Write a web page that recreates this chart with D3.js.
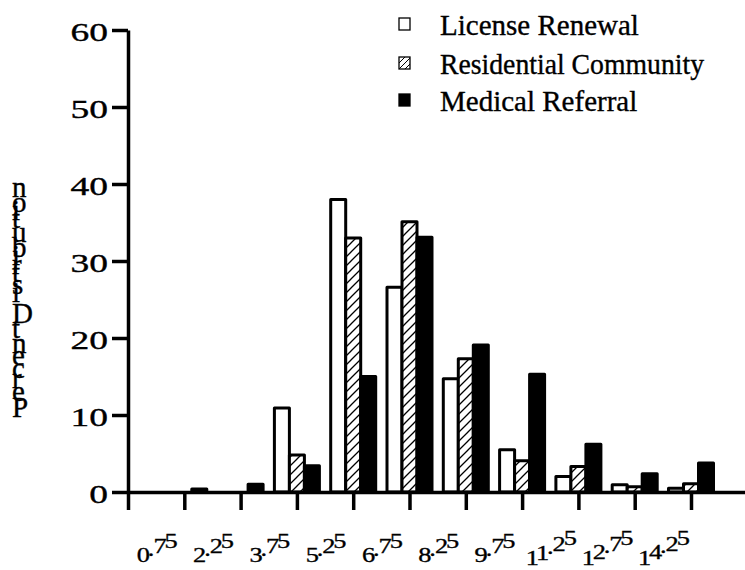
<!DOCTYPE html>
<html>
<head>
<meta charset="utf-8">
<script src="https://cdn.jsdelivr.net/npm/d3@7/dist/d3.min.js"></script>
<style>
  html, body { margin: 0; padding: 0; background: #fff; }
  svg { display: block; }
  svg text {
    font-family: "Liberation Serif", "Tinos", "Times New Roman", "DejaVu Serif", serif !important;
    fill: #000; stroke: #000; stroke-width: 0.35px;
  }
</style>
</head>
<body>
<svg id="chart" width="745" height="570"></svg>
<script>
const SERIF = '"Liberation Serif", "Tinos", "Times New Roman", "DejaVu Serif", serif';

// Bin labels (mid values of each 1.5-wide bin)
const binLabels = ["0.75", "2.25", "3.75", "5.25", "6.75", "8.25", "9.75", "11.25", "12.75", "14.25"];
const binMids = [0.75, 2.25, 3.75, 5.25, 6.75, 8.25, 9.75, 11.25, 12.75, 14.25];
// Bin boundaries drawn as tick marks
const binEdges = [0, 1.5, 3, 4.5, 6, 7.5, 9, 10.5, 12, 13.5, 15];

// Percent distribution per series
const seriesNames = ["License Renewal", "Residential Community", "Medical Referral"];
const licenseRenewal = [0, 0, 10.9, 38.0, 26.6, 14.7, 5.5, 2.0, 0.93, 0.5];
const residentialCommunity = [0, 0, 4.8, 33.0, 35.1, 17.3, 4.05, 3.3, 0.68, 1.06];
const medicalReferral = [0.4, 1.0, 3.4, 15.0, 33.1, 19.1, 15.3, 6.2, 2.36, 3.77];

const yTicks = [0, 10, 20, 30, 40, 50, 60];

const svg = d3.select("#chart").attr("font-family", SERIF);
const defs = svg.append("defs");

// Diagonal hatching for the second series
function hatch(id, s, w) {
  const p = defs.append("pattern").attr("id", id)
    .attr("patternUnits", "userSpaceOnUse").attr("width", s).attr("height", s);
  p.append("rect").attr("width", s).attr("height", s).attr("fill", "#fff");
  p.append("path")
    .attr("d", `M-1,1 l2,-2 M0,${s} l${s},${-s} M${s - 1},${s + 1} l2,-2`)
    .attr("stroke", "#000").attr("stroke-width", w);
}
hatch("hatch", 9, 1.3);
hatch("hatchSmall", 6, 1);

const axisX0 = 128, axisY0 = 492;
const x = d3.scaleLinear().domain([0, 16.5]).range([axisX0, 747.3]);
const y = d3.scaleLinear().domain([0, 60]).range([axisY0, 30]);

// Bars: three per bin, grouped around the bin's upper edge
const barW = 15;
const fills = ["#fff", "url(#hatch)", "#000"];
const series = [licenseRenewal, residentialCommunity, medicalReferral];
const bars = svg.append("g");
series.forEach((vals, si) => {
  bars.selectAll(null).data(vals).join("rect")
    .attr("x", (d, i) => x(binMids[i] + 0.75) + (si - 1.5) * barW)
    .attr("y", d => y(d))
    .attr("width", barW)
    .attr("height", d => axisY0 - y(d))
    .attr("fill", fills[si])
    .attr("stroke", "#000")
    .attr("stroke-width", 3)
    .attr("stroke-linejoin", "round");
});

// X axis: baseline with ticks at bin edges
const xAxis = svg.append("g").attr("transform", `translate(0,${axisY0})`)
  .call(d3.axisBottom(x).tickValues(binEdges).tickSize(18).tickSizeOuter(0).tickFormat(""));
xAxis.select(".domain").attr("stroke-width", 3.5);
xAxis.selectAll(".tick line").attr("stroke-width", 3.5);

// Y axis
const yAxis = svg.append("g").attr("transform", `translate(${axisX0},0)`)
  .call(d3.axisLeft(y).tickValues(yTicks).tickSize(16).tickSizeOuter(0).tickFormat(d3.format("d")));
yAxis.attr("font-family", SERIF);
yAxis.select(".domain").attr("stroke-width", 3.5);
yAxis.selectAll(".tick line").attr("stroke-width", 3.5);
yAxis.selectAll(".tick text")
  .attr("x", 0).attr("dy", "0.4em")
  .attr("transform", "translate(-20,0) scale(1.5,1)")
  .attr("font-size", 25)
  .attr("font-family", SERIF);

// Bin labels with upright glyphs set along a slanted line
svg.append("g").selectAll("text").data(binMids).join("text")
  .attr("transform", d => `translate(${x(d)},552) scale(1.2,1) rotate(-33)`)
  .attr("text-anchor", "middle")
  .attr("rotate", 33)
  .attr("font-size", 22)
  .attr("font-family", SERIF)
  .text((d, i) => binLabels[i]);

// Y axis title, glyphs stacked upright
svg.append("text")
  .attr("transform", "translate(12,417) rotate(-90)")
  .attr("rotate", 90)
  .attr("font-size", 29)
  .attr("font-family", SERIF)
  .text("Percent Distribution");

// Legend
const legendFills = ["#fff", "url(#hatchSmall)", "#000"];
const legendY = [35, 74, 111];
const legend = svg.append("g");
seriesNames.forEach((name, i) => {
  legend.append("rect")
    .attr("x", 399).attr("y", legendY[i] - 17)
    .attr("width", 11).attr("height", 12)
    .attr("fill", legendFills[i]).attr("stroke", "#000").attr("stroke-width", 1.3);
  const t = legend.append("text")
    .attr("x", 440).attr("y", legendY[i])
    .attr("font-size", 29)
    .attr("font-family", SERIF)
    .text(name);
  if (i === 1) t.attr("textLength", 264).attr("lengthAdjust", "spacingAndGlyphs");
});
</script>
</body>
</html>
